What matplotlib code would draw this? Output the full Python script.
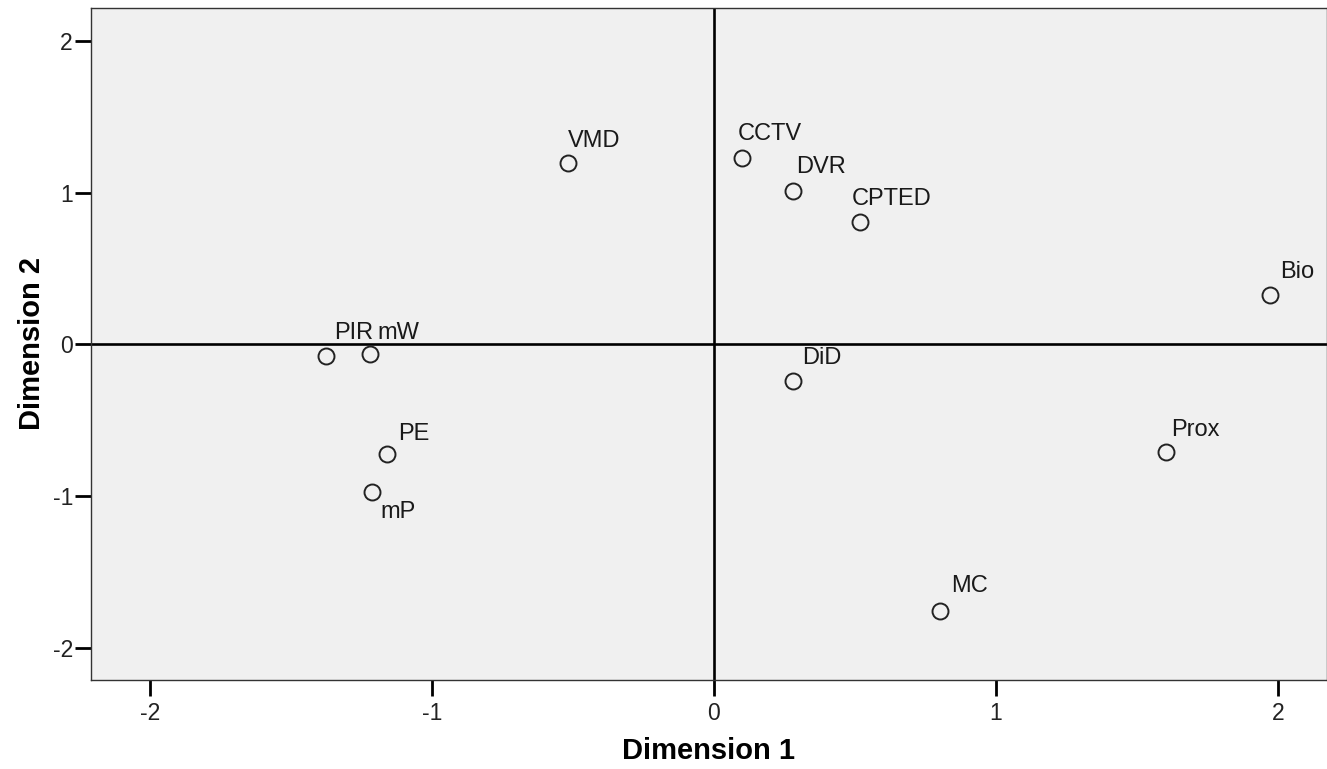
import matplotlib
matplotlib.use("Agg")
import matplotlib.pyplot as plt

labels = ["VMD", "CCTV", "DVR", "CPTED", "Bio", "PIR", "mW", "DiD", "PE", "mP", "Prox", "MC"]
dim1 = [-0.517, 0.099, 0.280, 0.517, 1.972, -1.377, -1.218, 0.280, -1.158, -1.211, 1.604, 0.800]
dim2 = [1.196, 1.229, 1.012, 0.807, 0.327, -0.076, -0.063, -0.241, -0.722, -0.972, -0.708, -1.756]
xticks = [-2, -1, 0, 1, 2]
yticks = [-2, -1, 0, 1, 2]

# label placement (pixel offsets from point to text start / baseline)
label_dx = {"VMD": 0, "CCTV": -4, "DVR": 3, "CPTED": -8, "Bio": 10, "PIR": 9, "mW": 7,
            "DiD": 9, "PE": 11, "mP": 8, "Prox": 5, "MC": 12}
label_dy = {"VMD": 16, "CCTV": 18, "DVR": 18, "CPTED": 17, "Bio": 17, "PIR": 17, "mW": 15,
            "DiD": 17, "PE": 14, "mP": -26, "Prox": 16, "MC": 19}

plt.rcParams['font.family'] = ['Liberation Sans', 'DejaVu Sans']

PX = 0.72  # points per pixel at dpi 100

fig = plt.figure(figsize=(13.27, 7.69), dpi=100)
ax = fig.add_axes([91/1327, 1-680/769, (1327-91)/1327, (680-8)/769])
ax.set_facecolor('#f0f0f0')
ax.set_xlim(-2.209, 2.174)
ax.set_ylim(-2.212, 2.216)

ax.axhline(0, color='black', lw=1.9, zorder=1)
ax.axvline(0, color='black', lw=1.9, zorder=1)

ax.plot(dim1, dim2, linestyle='none', marker='o', markersize=11.5,
        markerfacecolor='none', markeredgecolor='#222222', markeredgewidth=1.4, zorder=3)

for lab, x, y in zip(labels, dim1, dim2):
    ax.annotate(lab, (x, y), xytext=(label_dx[lab]*PX, label_dy[lab]*PX),
                textcoords='offset points', ha='left', va='baseline',
                fontsize=17, color='#1a1a1a')

ax.set_xticks(xticks)
ax.set_yticks(yticks)
ax.set_xticklabels([str(t) for t in xticks])
ax.set_yticklabels([str(t) for t in yticks])
ax.tick_params(direction='out', length=11.5, width=2.0, labelsize=16.5, colors='black',
               labelcolor='#222222')
ax.tick_params(axis='x', pad=4)
ax.tick_params(axis='y', pad=1.5)
for s in ax.spines.values():
    s.set_linewidth(1.0)
    s.set_color('#333333')

ax.set_xlabel('Dimension 1', fontsize=21, fontweight='bold', labelpad=9)
ax.set_ylabel('Dimension 2', fontsize=21, fontweight='bold', labelpad=5)

fig.savefig('out.png', dpi=100)
